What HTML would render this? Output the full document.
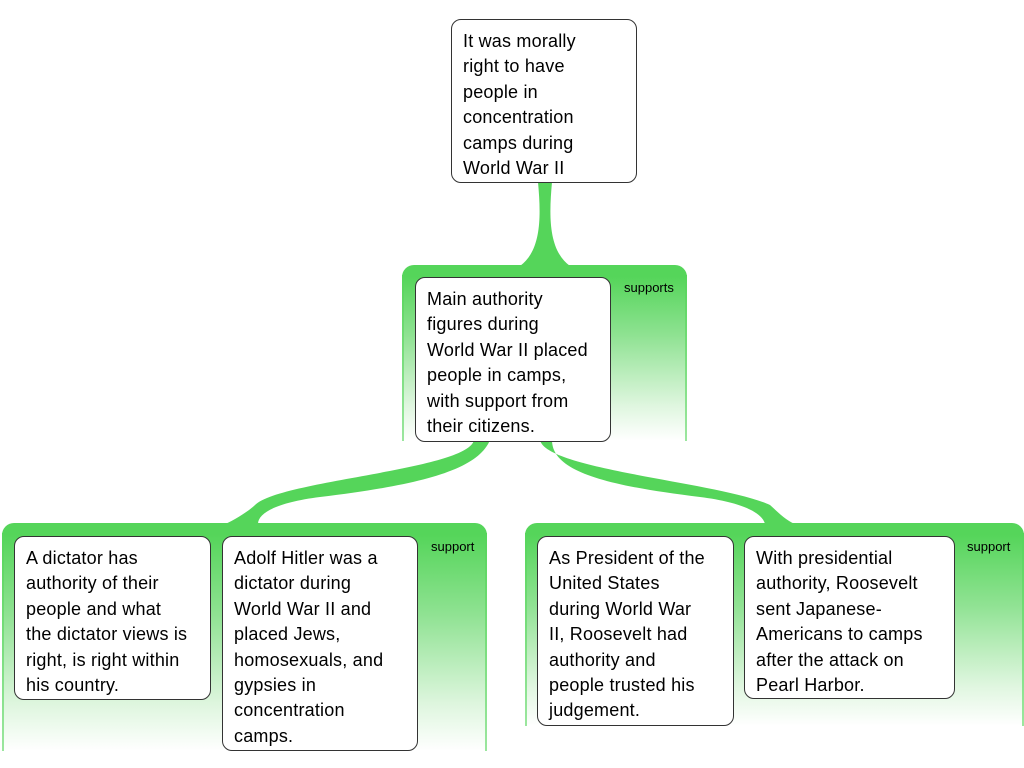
<!DOCTYPE html>
<html><head><meta charset="utf-8"><style>
body{margin:0;width:1024px;height:768px;background:#fff;position:relative;overflow:hidden;font-family:"Liberation Sans",Arial,sans-serif}
.p{position:absolute;border-radius:12px 12px 0 0;background:linear-gradient(to bottom,#55d55a 0px,#55d55a 12px,#8fe292 40%,#dff6df 80%,rgba(255,255,255,0) 100%)}
.p::before,.p::after{content:"";position:absolute;top:10px;bottom:0;width:2px;background:linear-gradient(to bottom,#55d55a,#9be69e)}
.p::before{left:0}.p::after{right:0}
.b{position:absolute;background:#fff;border:1px solid #333;border-radius:10px;box-sizing:border-box;padding:9px 11px;font-size:18px;line-height:25.4px;color:#000;white-space:nowrap;letter-spacing:0.2px}
.l{position:absolute;font-size:13px;color:#000}
svg{position:absolute;left:0;top:0}
</style></head><body>
<div class="p" style="left:402px;top:265px;width:285px;height:176px"></div>
<div class="p" style="left:2px;top:523px;width:485px;height:228px"></div>
<div class="p" style="left:525px;top:523px;width:499px;height:203px"></div>
<svg width="1024" height="768">
<path d="M538,182 C541,215 542,250 520,266 L570,266 C548,250 549,215 552,182 Z" fill="#55d55a"/>
<path d="M474,440 C468,470 280,480 255,505 C250,510 235,520 225,524 L258,524 C258,512 280,502 320,497 C420,485 478,470 490,440 Z" fill="#55d55a"/>
<path d="M540,440 C546,470 720,482 770,505 C778,512 785,520 795,524 L765,524 C762,512 740,502 700,497 C600,485 552,470 552,440 Z" fill="#55d55a"/>
</svg>
<div class="l" style="left:624px;top:280px">supports</div>
<div class="l" style="left:431px;top:539px">support</div>
<div class="l" style="left:967px;top:539px">support</div>
<div class="b" style="left:451px;top:19px;width:186px;height:164px">It was morally<br>right to have<br>people in<br>concentration<br>camps during<br>World War II</div>
<div class="b" style="left:415px;top:277px;width:196px;height:165px">Main authority<br>figures during<br>World War II placed<br>people in camps,<br>with support from<br>their citizens.</div>
<div class="b" style="left:14px;top:536px;width:197px;height:164px">A dictator has<br>authority of their<br>people and what<br>the dictator views is<br>right, is right within<br>his country.</div>
<div class="b" style="left:222px;top:536px;width:196px;height:215px">Adolf Hitler was a<br>dictator during<br>World War II and<br>placed Jews,<br>homosexuals, and<br>gypsies in<br>concentration<br>camps.</div>
<div class="b" style="left:537px;top:536px;width:197px;height:190px">As President of the<br>United States<br>during World War<br>II, Roosevelt had<br>authority and<br>people trusted his<br>judgement.</div>
<div class="b" style="left:744px;top:536px;width:211px;height:163px">With presidential<br>authority, Roosevelt<br>sent Japanese-<br>Americans to camps<br>after the attack on<br>Pearl Harbor.</div>
</body></html>
